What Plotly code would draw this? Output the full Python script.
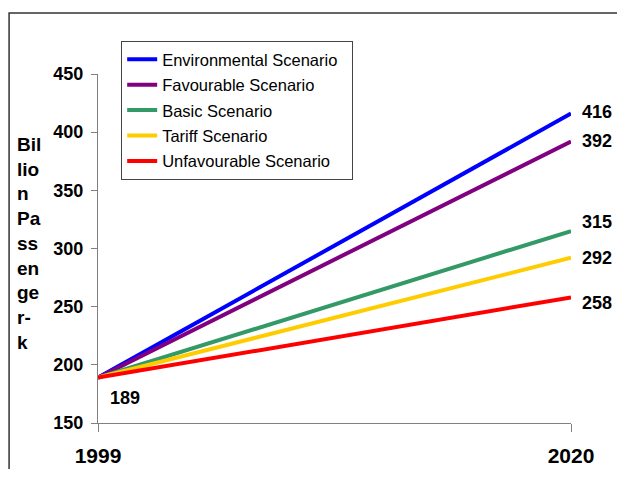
import plotly.graph_objects as go

years = [1999, 2020]
scenarios = ["Environmental Scenario", "Favourable Scenario", "Basic Scenario",
             "Tariff Scenario", "Unfavourable Scenario"]
start_value = 189
end_values = [416, 392, 315, 292, 258]
colors = ["#0000FF", "#800080", "#339966", "#FFCC00", "#FF0000"]
label_shift = [2, 0, 9, 0, -6]
y_ticks = [150, 200, 250, 300, 350, 400, 450]
y_title = "Bil<br>lio<br>n<br>Pa<br>ss<br>en<br>ge<br>r-<br>k"

FONT = "Arial, Liberation Sans, sans-serif"

fig = go.Figure()
for i, (name, end, c) in enumerate(zip(scenarios, end_values, colors)):
    fig.add_trace(go.Scatter(x=years, y=[start_value, end], mode="lines",
                             name=name + "\u00a0\u00a0",
                             legendgroup=f"g{i}",
                             line=dict(color=c, width=4)))

for end, sh in zip(end_values, label_shift):
    fig.add_annotation(x=years[1], y=end, text=f"<b>{end}</b>", showarrow=False,
                       xanchor="left", xshift=9, yshift=sh,
                       font=dict(family=FONT, size=18, color="black"))
fig.add_annotation(x=years[0], y=start_value, text=f"<b>{start_value}</b>", showarrow=False,
                   xanchor="left", xshift=10, yshift=-20,
                   font=dict(family=FONT, size=18, color="black"))
fig.add_annotation(xref="paper", yref="paper", x=-0.176, y=0.513, text=f"<b>{y_title}</b>",
                   showarrow=False, xanchor="left", yanchor="middle", align="left",
                   font=dict(family=FONT, size=19, color="black"))

# outer frame
fig.add_shape(type="rect", xref="paper", yref="paper", x0=-0.188, y0=-0.3, x1=1.3, y1=1.175,
              line=dict(color="#333333", width=1.5), layer="below")

fig.update_layout(
    width=609, height=461,
    margin=dict(l=90, r=46, t=66, b=46),
    paper_bgcolor="white", plot_bgcolor="white",
    font=dict(family=FONT, color="black"),
    showlegend=True,
    legend=dict(x=0.049, y=1.0946, xanchor="left", yanchor="top",
                bordercolor="#444444", borderwidth=1, bgcolor="white",
                tracegroupgap=1,
                font=dict(family=FONT, size=16.5, color="black")),
    xaxis=dict(range=[1999, 2020], tickvals=years, ticktext=["<b>1999</b>", "<b>2020</b>"],
               showgrid=False, zeroline=False, showline=True, linecolor="#808080", linewidth=1,
               ticks="outside", ticklen=8, tickcolor="#808080", automargin=False,
               tickfont=dict(family=FONT, size=21, color="black"), ticklabelstandoff=6),
    yaxis=dict(range=[150, 450], tickvals=y_ticks, ticktext=[f"<b>{v}</b>" for v in y_ticks],
               showgrid=False, zeroline=False, showline=True, linecolor="#808080", linewidth=1,
               ticks="outside", ticklen=6, tickcolor="#808080", ticklabelstandoff=4,
               automargin=False,
               tickfont=dict(family=FONT, size=18, color="black")),
)

fig.write_html("out.html")
